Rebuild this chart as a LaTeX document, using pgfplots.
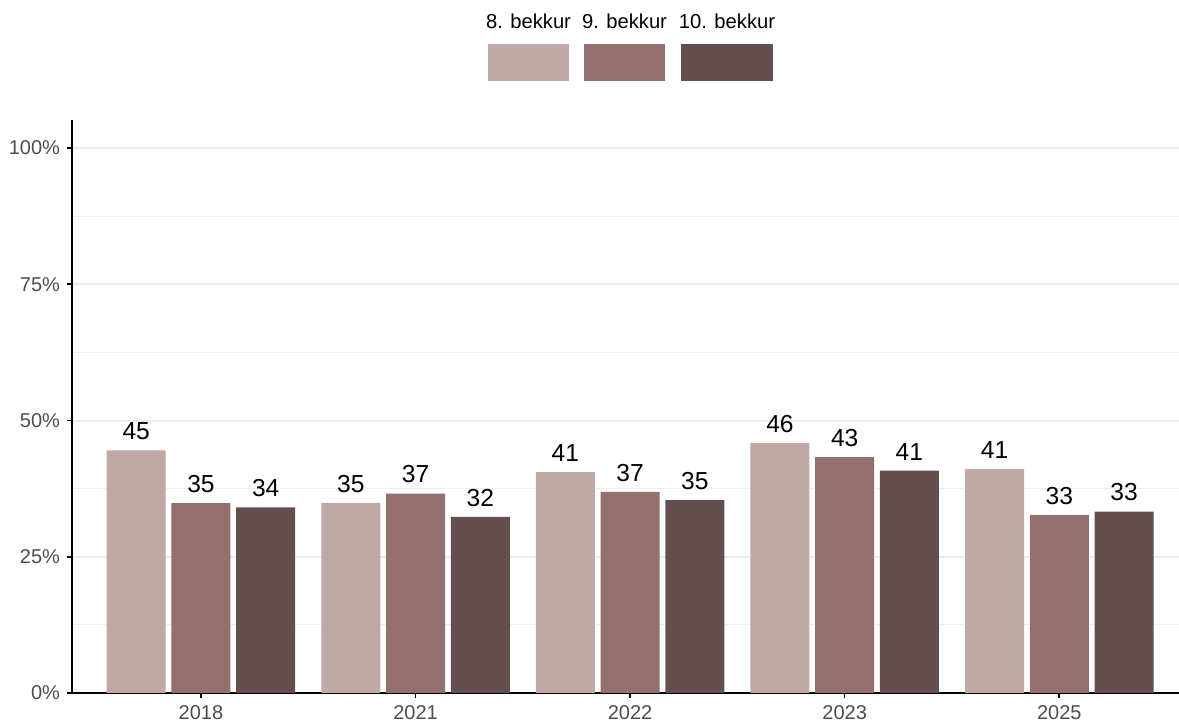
\documentclass[border=0pt]{standalone}
\usepackage{pgfplots}
\pgfplotsset{compat=1.18}
\usepackage{fontspec}
\setmainfont{Liberation Sans}
\definecolor{cA}{HTML}{C0A8A7}
\definecolor{cB}{HTML}{936F6D}
\definecolor{cC}{HTML}{654F4E}
\definecolor{tickgray}{HTML}{4D4D4D}
\definecolor{gridmaj}{HTML}{EBEBEB}
\definecolor{gridmin}{HTML}{EFEFEF}
\begin{document}
\begin{tikzpicture}
\useasboundingbox (-36pt,-14.5pt) rectangle (553.5pt,346.5pt);
\begin{axis}[
  at={(0,0)}, anchor=south west,
  scale only axis, width=553.5pt, height=286.5pt,
  xmin=-0.601, xmax=4.558, ymin=0, ymax=105.14,
  axis x line=bottom, axis y line=left,
  axis line style={-, line width=0.9pt, black},
  xtick={0,1,2,3,4},
  xticklabels={2018,2021,2022,2023,2025},
  ytick={0,25,50,75,100},
  yticklabels={0\%,25\%,50\%,75\%,100\%},
  minor ytick={12.5,37.5,62.5,87.5},
  ymajorgrids, yminorgrids,
  major grid style={gridmaj, line width=1pt},
  minor grid style={gridmin, line width=0.6pt},
  tick align=outside,
  major tick length=2.5pt, minor tick length=0pt,
  tick style={black, line width=0.8pt},
  ticklabel style={font=\fontsize{10}{12}\selectfont, text=tickgray},
  /pgf/number format/assume math mode=true,
  ybar, bar width=0.275,
  point meta=explicit symbolic,
  nodes near coords,
  every node near coord/.append style={font=\fontsize{12.3}{14}\selectfont, text=black, inner sep=0pt, anchor=south, yshift=5pt},
  clip=false,
]
\addplot[fill=cA, draw=none, bar shift=-0.3017] coordinates {
  (0,44.5) [45] (1,34.9) [35] (2,40.55) [41] (3,45.9) [46] (4,41.1) [41]};
\addplot[fill=cB, draw=none, bar shift=0] coordinates {
  (0,34.86) [35] (1,36.6) [37] (2,36.9) [37] (3,43.3) [43] (4,32.7) [33]};
\addplot[fill=cC, draw=none, bar shift=0.3017] coordinates {
  (0,34.07) [34] (1,32.3) [32] (2,35.4) [35] (3,40.8) [41] (4,33.3) [33]};
\end{axis}
% legend
\fill[cA] (208pt,306pt) rectangle (248.5pt,324.5pt);
\fill[cB] (256pt,306pt) rectangle (296.5pt,324.5pt);
\fill[cC] (304.5pt,306pt) rectangle (350.5pt,324.5pt);
\node[anchor=base, inner sep=0pt, font=\fontsize{10.1}{12}\selectfont] at (228.25pt,332pt) {8. bekkur};
\node[anchor=base, inner sep=0pt, font=\fontsize{10.1}{12}\selectfont] at (276.25pt,332pt) {9. bekkur};
\node[anchor=base, inner sep=0pt, font=\fontsize{10.1}{12}\selectfont] at (327.5pt,332pt) {10. bekkur};
\end{tikzpicture}
\end{document}
